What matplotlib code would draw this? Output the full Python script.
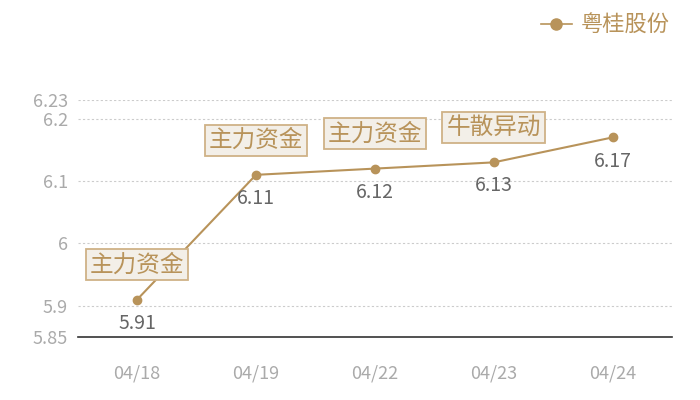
import matplotlib
matplotlib.use("Agg")
import matplotlib.pyplot as plt
from matplotlib.lines import Line2D

plt.rcParams['font.family'] = ['Noto Sans CJK SC', 'DejaVu Sans']

dates = ["04/18", "04/19", "04/22", "04/23", "04/24"]
prices = [5.91, 6.11, 6.12, 6.13, 6.17]
tags = ["主力资金", "主力资金", "主力资金", "牛散异动", None]
series_name = "粤桂股份"
yticks = [5.85, 5.9, 6.0, 6.1, 6.2, 6.23]
ytick_labels = ["5.85", "5.9", "6", "6.1", "6.2", "6.23"]

gold = "#b8935a"

fig = plt.figure(figsize=(7, 4), dpi=100)
ax = fig.add_axes([0.111, 0.1575, 0.849, 0.5925])

x = list(range(len(dates)))
ax.plot(x, prices, color=gold, linewidth=1.5, marker="o", markersize=6, zorder=3)

for i, (p, t) in enumerate(zip(prices, tags)):
    ax.annotate(f"{p:.2f}", (i, p), xytext=(0, -17), textcoords="offset points",
                ha="center", va="center", fontsize=14, color="#666666")
    if t:
        ax.annotate(t, (i, p), xytext=(0, 25), textcoords="offset points",
                    ha="center", va="center", fontsize=17, color=gold, zorder=5,
                    bbox=dict(boxstyle="square,pad=0.17", fc="#f3efe8", ec="#cfb287", lw=1.3))

ax.set_xlim(-0.5, len(dates) - 0.5)
ax.set_ylim(5.85, 6.23)
ax.set_xticks(x)
ax.set_xticklabels(dates)
ax.set_yticks(yticks)
ax.set_yticklabels(ytick_labels)
ax.tick_params(axis="both", length=0, labelsize=13, labelcolor="#aaaaaa")
ax.tick_params(axis="x", pad=20)
ax.tick_params(axis="y", pad=7)
ax.grid(axis="y", linestyle=(0, (2, 2)), color="#cccccc", linewidth=0.8)
for s in ["top", "right", "left"]:
    ax.spines[s].set_visible(False)
ax.spines["bottom"].set_color("#333333")
ax.spines["bottom"].set_linewidth(1.2)
# hide grid line at the axis bottom
ax.yaxis.get_gridlines()[0].set_visible(False)

handle = Line2D([0], [0], color=gold, marker="o", markersize=8, linewidth=1.2)
fig.legend([handle], [series_name], loc="upper right", bbox_to_anchor=(0.985, 1.015),
           frameon=False, fontsize=16, labelcolor=gold, handlelength=1.4, handletextpad=0.4)

fig.savefig("out.png", dpi=100)
